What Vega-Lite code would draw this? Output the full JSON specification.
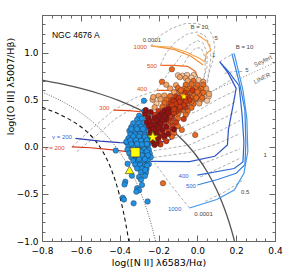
{
"$schema":"https://vega.github.io/schema/vega-lite/v6.json",
"width":233,"height":226,
"autosize":{"type":"none"},
"padding":{"left":42,"top":15,"right":8,"bottom":28},
"config":{"view":{"stroke":"#666","strokeWidth":1},"font":"Liberation Sans","axis":{"grid":false,"domain":false}},
"datasets":{
"kew":[{"i":0,"x":-0.8,"y":0.7097},{"i":1,"x":-0.7,"y":0.6686},{"i":2,"x":-0.6,"y":0.6199},{"i":3,"x":-0.5,"y":0.5611},{"i":4,"x":-0.4,"y":0.4889},{"i":5,"x":-0.3,"y":0.3978},{"i":6,"x":-0.25,"y":0.3428},{"i":7,"x":-0.2,"y":0.2796},{"i":8,"x":-0.15,"y":0.2061},{"i":9,"x":-0.1,"y":0.1198},{"i":10,"x":-0.05,"y":0.0169},{"i":11,"x":0,"y":-0.1079},{"i":12,"x":0.05,"y":-0.2624},{"i":13,"x":0.1,"y":-0.4586},{"i":14,"x":0.125,"y":-0.5781},{"i":15,"x":0.15,"y":-0.7163},{"i":16,"x":0.175,"y":-0.8778},{"i":17,"x":0.1915,"y":-1.0}],
"kau":[{"i":0,"x":-0.8,"y":0.5824},{"i":1,"x":-0.7,"y":0.4867},{"i":2,"x":-0.6,"y":0.3615},{"i":3,"x":-0.5,"y":0.1909},{"i":4,"x":-0.45,"y":0.08},{"i":5,"x":-0.4,"y":-0.0556},{"i":6,"x":-0.35,"y":-0.225},{"i":7,"x":-0.3,"y":-0.4429},{"i":8,"x":-0.275,"y":-0.5769},{"i":9,"x":-0.25,"y":-0.7333},{"i":10,"x":-0.235,"y":-0.8404},{"i":11,"x":-0.215,"y":-1.0019}],
"sta":[{"i":0,"x":-0.8,"y":0.4215},{"i":1,"x":-0.75,"y":0.3808},{"i":2,"x":-0.7,"y":0.335},{"i":3,"x":-0.65,"y":0.2809},{"i":4,"x":-0.6,"y":0.2134},{"i":5,"x":-0.55,"y":0.123},{"i":6,"x":-0.5,"y":-0.0067},{"i":7,"x":-0.45,"y":-0.2045},{"i":8,"x":-0.42,"y":-0.3755},{"i":9,"x":-0.4,"y":-0.521},{"i":10,"x":-0.38,"y":-0.6983},{"i":11,"x":-0.36,"y":-0.9157},{"i":12,"x":-0.353,"y":-1.0031}],
"sey":[{"i":0,"x":-0.03,"y":0.49},{"i":1,"x":0.4,"y":0.895}],
"dgrid":[
{"g":"Oa","i":0,"x":-0.24,"y":1.07},{"g":"Oa","i":1,"x":-0.2,"y":1.17},{"g":"Oa","i":2,"x":-0.13,"y":1.26},{"g":"Oa","i":3,"x":-0.06,"y":1.31},{"g":"Oa","i":4,"x":0.0,"y":1.31},{"g":"Oa","i":5,"x":0.05,"y":1.27},{"g":"Oa","i":6,"x":0.08,"y":1.18},{"g":"Oa","i":7,"x":0.09,"y":1.06},{"g":"Oa","i":8,"x":0.08,"y":0.92},{"g":"Oa","i":9,"x":0.06,"y":0.78},{"g":"Oa","i":10,"x":0.05,"y":0.65},
{"g":"Ob","i":0,"x":-0.19,"y":0.87},{"g":"Ob","i":1,"x":-0.16,"y":1.0},{"g":"Ob","i":2,"x":-0.11,"y":1.12},{"g":"Ob","i":3,"x":-0.05,"y":1.2},{"g":"Ob","i":4,"x":0.0,"y":1.22},{"g":"Ob","i":5,"x":0.04,"y":1.18},{"g":"Ob","i":6,"x":0.065,"y":1.08},{"g":"Ob","i":7,"x":0.07,"y":0.95},{"g":"Ob","i":8,"x":0.06,"y":0.8},{"g":"Ob","i":9,"x":0.045,"y":0.66},
{"g":"Oc","i":0,"x":-0.21,"y":0.6},{"g":"Oc","i":1,"x":-0.15,"y":0.78},{"g":"Oc","i":2,"x":-0.09,"y":0.95},{"g":"Oc","i":3,"x":-0.04,"y":1.08},{"g":"Oc","i":4,"x":0.0,"y":1.13},{"g":"Oc","i":5,"x":0.03,"y":1.1},{"g":"Oc","i":6,"x":0.05,"y":1.0},{"g":"Oc","i":7,"x":0.05,"y":0.85},{"g":"Oc","i":8,"x":0.03,"y":0.7},
{"g":"Od","i":0,"x":-0.08,"y":0.85},{"g":"Od","i":1,"x":-0.04,"y":0.98},{"g":"Od","i":2,"x":-0.01,"y":1.05},{"g":"Od","i":3,"x":0.02,"y":1.05},{"g":"Od","i":4,"x":0.04,"y":0.95},{"g":"Od","i":5,"x":0.04,"y":0.8},{"g":"Od","i":6,"x":0.02,"y":0.65},
{"g":"Oe","i":0,"x":-0.646,"y":0.0},{"g":"Oe","i":1,"x":-0.55,"y":0.18},{"g":"Oe","i":2,"x":-0.431,"y":0.39},{"g":"Oe","i":3,"x":-0.32,"y":0.52},{"g":"Oe","i":4,"x":-0.21,"y":0.6},
{"g":"Of","i":0,"x":-0.62,"y":-0.05},{"g":"Of","i":1,"x":-0.52,"y":0.12},{"g":"Of","i":2,"x":-0.42,"y":0.3},{"g":"Of","i":3,"x":-0.3,"y":0.45},{"g":"Of","i":4,"x":-0.18,"y":0.56},
{"g":"F1","i":0,"x":-0.25,"y":-0.12},{"g":"F1","i":1,"x":-0.04,"y":-0.06},{"g":"F1","i":2,"x":0.1,"y":0.03},{"g":"F1","i":3,"x":0.22,"y":0.14},
{"g":"F2","i":0,"x":-0.25,"y":-0.05},{"g":"F2","i":1,"x":-0.04,"y":0.02},{"g":"F2","i":2,"x":0.1,"y":0.15},{"g":"F2","i":3,"x":0.22,"y":0.28},
{"g":"F3","i":0,"x":-0.24,"y":0.02},{"g":"F3","i":1,"x":-0.04,"y":0.14},{"g":"F3","i":2,"x":0.1,"y":0.27},{"g":"F3","i":3,"x":0.21,"y":0.38},
{"g":"F4","i":0,"x":-0.2,"y":0.12},{"g":"F4","i":1,"x":-0.03,"y":0.25},{"g":"F4","i":2,"x":0.1,"y":0.38},{"g":"F4","i":3,"x":0.2,"y":0.48},
{"g":"F5","i":0,"x":-0.1,"y":0.3},{"g":"F5","i":1,"x":0.0,"y":0.38},{"g":"F5","i":2,"x":0.1,"y":0.5},{"g":"F5","i":3,"x":0.2,"y":0.6},
{"g":"F6","i":0,"x":0.0,"y":0.5},{"g":"F6","i":1,"x":0.1,"y":0.62},{"g":"F6","i":2,"x":0.18,"y":0.72},{"g":"F6","i":3,"x":0.22,"y":0.8},
{"g":"F7","i":0,"x":0.015,"y":-0.32},{"g":"F7","i":1,"x":0.12,"y":-0.22},{"g":"F7","i":2,"x":0.22,"y":-0.12},
{"g":"F8","i":0,"x":0.0,"y":-0.2},{"g":"F8","i":1,"x":0.1,"y":-0.12},{"g":"F8","i":2,"x":0.22,"y":-0.02},
{"g":"F9","i":0,"x":-0.04,"y":-0.65},{"g":"F9","i":1,"x":-0.08,"y":-0.55},{"g":"F9","i":2,"x":-0.13,"y":-0.42},{"g":"F9","i":3,"x":-0.18,"y":-0.28},{"g":"F9","i":4,"x":-0.22,"y":-0.17},
{"g":"F10","i":0,"x":0.04,"y":-0.58},{"g":"F10","i":1,"x":0.14,"y":-0.48},{"g":"F10","i":2,"x":0.23,"y":-0.36},
{"g":"Ft1","i":0,"x":0.115,"y":0.904},{"g":"Ft1","i":1,"x":0.15,"y":0.95},{"g":"Ft1","i":2,"x":0.19,"y":0.99},
{"g":"Ft2","i":0,"x":0.14,"y":0.78},{"g":"Ft2","i":1,"x":0.19,"y":0.8},{"g":"Ft2","i":2,"x":0.24,"y":0.8}
],
"ogrid":[
{"v":"200","i":0,"x":-0.646,"y":0.0},{"v":"200","i":1,"x":-0.55,"y":-0.01},{"v":"200","i":2,"x":-0.45,"y":-0.03},{"v":"200","i":3,"x":-0.36,"y":-0.05},{"v":"200","i":4,"x":-0.3,"y":-0.03},{"v":"200","i":5,"x":-0.25,"y":0.02},{"v":"200","i":6,"x":-0.2,"y":0.08},{"v":"200","i":7,"x":-0.15,"y":0.14},{"v":"200","i":8,"x":-0.12,"y":0.2},
{"v":"300","i":0,"x":-0.431,"y":0.39},{"v":"300","i":1,"x":-0.35,"y":0.385},{"v":"300","i":2,"x":-0.28,"y":0.37},{"v":"300","i":3,"x":-0.2,"y":0.34},{"v":"300","i":4,"x":-0.14,"y":0.32},
{"v":"400","i":0,"x":-0.208,"y":0.6},{"v":"400","i":1,"x":-0.12,"y":0.6},{"v":"400","i":2,"x":-0.05,"y":0.595},{"v":"400","i":3,"x":0.01,"y":0.56},
{"v":"500","i":0,"x":-0.19,"y":0.865},{"v":"500","i":1,"x":-0.12,"y":0.865},{"v":"500","i":2,"x":-0.05,"y":0.855},{"v":"500","i":3,"x":-0.01,"y":0.8},{"v":"500","i":4,"x":0.005,"y":0.72},{"v":"500","i":5,"x":0.01,"y":0.66},
{"v":"700","i":0,"x":-0.235,"y":1.072},{"v":"700","i":1,"x":-0.12,"y":1.035},{"v":"700","i":2,"x":-0.03,"y":0.96},{"v":"700","i":3,"x":0.03,"y":0.87},
{"v":"1000","i":0,"x":-0.24,"y":1.07},{"v":"1000","i":1,"x":-0.14,"y":1.06},{"v":"1000","i":2,"x":-0.06,"y":1.01},{"v":"1000","i":3,"x":0.01,"y":0.94},{"v":"1000","i":4,"x":0.04,"y":0.9},{"v":"1000","i":5,"x":0.045,"y":0.985},{"v":"1000","i":6,"x":0.07,"y":1.03},{"v":"1000","i":7,"x":0.05,"y":1.12},{"v":"1000","i":8,"x":0.0,"y":1.19}
],
"bgrid":[
{"v":"200","i":0,"x":-0.628,"y":0.09},{"v":"200","i":1,"x":-0.5,"y":0.06},{"v":"200","i":2,"x":-0.4,"y":0.045},{"v":"200","i":3,"x":-0.3,"y":0.04},{"v":"200","i":4,"x":-0.2,"y":0.045},{"v":"200","i":5,"x":-0.14,"y":0.075},{"v":"200","i":6,"x":-0.11,"y":0.15},
{"v":"300","i":0,"x":-0.24,"y":-0.155},{"v":"300","i":1,"x":-0.04,"y":-0.157},{"v":"300","i":2,"x":0.09,"y":-0.1},{"v":"300","i":3,"x":0.155,"y":0.02},{"v":"300","i":4,"x":0.16,"y":0.18},{"v":"300","i":5,"x":0.185,"y":0.45},{"v":"300","i":6,"x":0.2,"y":0.62},{"v":"300","i":7,"x":0.16,"y":0.78},{"v":"300","i":8,"x":0.115,"y":0.904},
{"v":"400","i":0,"x":0.0,"y":-0.3},{"v":"400","i":1,"x":0.19,"y":-0.23},{"v":"400","i":2,"x":0.235,"y":-0.16},{"v":"400","i":3,"x":0.24,"y":0.05},{"v":"400","i":4,"x":0.23,"y":0.35},{"v":"400","i":5,"x":0.215,"y":0.65},{"v":"400","i":6,"x":0.16,"y":0.8},{"v":"400","i":7,"x":0.12,"y":0.89},
{"v":"500","i":0,"x":0.0,"y":-0.405},{"v":"500","i":1,"x":0.1,"y":-0.35},{"v":"500","i":2,"x":0.2,"y":-0.28},{"v":"500","i":3,"x":0.245,"y":-0.19},{"v":"500","i":4,"x":0.25,"y":0.04},{"v":"500","i":5,"x":0.245,"y":0.39},{"v":"500","i":6,"x":0.22,"y":0.65},{"v":"500","i":7,"x":0.178,"y":0.99},
{"v":"1000","i":0,"x":-0.04,"y":-0.65},{"v":"1000","i":1,"x":0.1,"y":-0.56},{"v":"1000","i":2,"x":0.19,"y":-0.46},{"v":"1000","i":3,"x":0.24,"y":-0.28},{"v":"1000","i":4,"x":0.26,"y":-0.05},{"v":"1000","i":5,"x":0.255,"y":0.3},{"v":"1000","i":6,"x":0.235,"y":0.6},{"v":"1000","i":7,"x":0.19,"y":0.99}
],
"blue":[
{"x":-0.275,"y":0.49},{"x":-0.272,"y":0.38},{"x":-0.3,"y":0.33},{"x":-0.31,"y":0.29},{"x":-0.285,"y":0.3},
{"x":-0.33,"y":0.25},{"x":-0.3,"y":0.25},{"x":-0.275,"y":0.255},
{"x":-0.34,"y":0.21},{"x":-0.315,"y":0.21},{"x":-0.29,"y":0.215},{"x":-0.265,"y":0.205},
{"x":-0.35,"y":0.17},{"x":-0.325,"y":0.17},{"x":-0.3,"y":0.175},{"x":-0.275,"y":0.165},{"x":-0.25,"y":0.17},
{"x":-0.345,"y":0.13},{"x":-0.32,"y":0.13},{"x":-0.295,"y":0.135},{"x":-0.27,"y":0.125},{"x":-0.245,"y":0.13},
{"x":-0.355,"y":0.09},{"x":-0.33,"y":0.09},{"x":-0.305,"y":0.095},{"x":-0.28,"y":0.085},{"x":-0.255,"y":0.09},{"x":-0.232,"y":0.085},
{"x":-0.365,"y":0.05},{"x":-0.34,"y":0.05},{"x":-0.315,"y":0.055},{"x":-0.29,"y":0.045},{"x":-0.265,"y":0.05},{"x":-0.24,"y":0.045},
{"x":-0.355,"y":0.01},{"x":-0.33,"y":0.01},{"x":-0.305,"y":0.015},{"x":-0.28,"y":0.005},{"x":-0.255,"y":0.01},
{"x":-0.36,"y":-0.03},{"x":-0.3,"y":-0.035},{"x":-0.275,"y":-0.025},{"x":-0.25,"y":-0.03},
{"x":-0.35,"y":-0.07},{"x":-0.295,"y":-0.075},{"x":-0.27,"y":-0.065},{"x":-0.245,"y":-0.07},
{"x":-0.34,"y":-0.11},{"x":-0.315,"y":-0.11},{"x":-0.29,"y":-0.115},{"x":-0.265,"y":-0.105},{"x":-0.24,"y":-0.11},
{"x":-0.33,"y":-0.15},{"x":-0.305,"y":-0.15},{"x":-0.28,"y":-0.155},{"x":-0.255,"y":-0.145},
{"x":-0.32,"y":-0.19},{"x":-0.295,"y":-0.19},{"x":-0.27,"y":-0.195},{"x":-0.25,"y":-0.185},
{"x":-0.31,"y":-0.23},{"x":-0.285,"y":-0.23},{"x":-0.262,"y":-0.235},
{"x":-0.29,"y":-0.27},{"x":-0.265,"y":-0.275},
{"x":-0.359,"y":-0.18},{"x":-0.337,"y":-0.306},{"x":-0.3,"y":-0.32},{"x":-0.27,"y":-0.31},
{"x":-0.371,"y":-0.37},{"x":-0.29,"y":-0.35},{"x":-0.375,"y":-0.4},{"x":-0.285,"y":-0.405},
{"x":-0.31,"y":-0.44},{"x":-0.3,"y":-0.46},{"x":-0.314,"y":-0.476},
{"x":-0.384,"y":-0.54},{"x":-0.378,"y":-0.56},{"x":-0.256,"y":-0.58},{"x":-0.328,"y":-0.6},
{"x":-0.42,"y":-0.04},{"x":-0.365,"y":0.055},{"x":-0.26,"y":-0.2},{"x":-0.268,"y":-0.245},
{"x":-0.34,"y":0.19},{"x":-0.31,"y":0.19},{"x":-0.28,"y":0.19},{"x":-0.33,"y":0.11},{"x":-0.3,"y":0.11},{"x":-0.27,"y":0.105},
{"x":-0.345,"y":0.07},{"x":-0.315,"y":0.07},{"x":-0.29,"y":0.065},{"x":-0.26,"y":0.07},{"x":-0.34,"y":0.03},{"x":-0.31,"y":0.03},{"x":-0.285,"y":0.025},{"x":-0.26,"y":0.03},
{"x":-0.325,"y":-0.05},{"x":-0.29,"y":-0.05},{"x":-0.26,"y":-0.05},{"x":-0.32,"y":-0.09},{"x":-0.285,"y":-0.09},{"x":-0.255,"y":-0.09},{"x":-0.3,"y":-0.13},{"x":-0.27,"y":-0.13}
],
"red":[
{"t":1,"x":-0.1,"y":0.76},{"t":1,"x":-0.075,"y":0.755},{"t":1,"x":-0.053,"y":0.763},{"t":1,"x":-0.019,"y":0.763},{"t":1,"x":-0.03,"y":0.735},{"t":1,"x":0.006,"y":0.71},{"t":1,"x":0.05,"y":0.58},{"t":1,"x":0.04,"y":0.535},{"t":1,"x":0.058,"y":0.533},{"t":1,"x":0.05,"y":0.49},{"t":1,"x":-0.21,"y":0.46},
{"t":2,"x":-0.09,"y":0.74},{"t":2,"x":-0.06,"y":0.73},{"t":2,"x":-0.05,"y":0.7},{"t":2,"x":0.03,"y":0.69},{"t":2,"x":-0.16,"y":0.66},{"t":2,"x":-0.11,"y":0.655},{"t":2,"x":-0.14,"y":0.62},{"t":2,"x":0.045,"y":0.62},{"t":2,"x":-0.12,"y":0.58},{"t":2,"x":-0.2,"y":0.54},{"t":2,"x":-0.17,"y":0.545},{"t":2,"x":-0.23,"y":0.5},{"t":2,"x":-0.19,"y":0.505},{"t":2,"x":0.02,"y":0.5},{"t":2,"x":0.01,"y":0.46},{"t":2,"x":-0.22,"y":0.42},{"t":2,"x":0.06,"y":0.56},{"t":2,"x":-0.227,"y":0.53},
{"t":3,"x":-0.131,"y":0.824},{"t":3,"x":-0.182,"y":0.692},{"t":3,"x":-0.02,"y":0.7},{"t":3,"x":-0.06,"y":0.66},{"t":3,"x":-0.03,"y":0.665},{"t":3,"x":0.0,"y":0.655},{"t":3,"x":0.03,"y":0.66},{"t":3,"x":-0.1,"y":0.625},{"t":3,"x":-0.07,"y":0.615},{"t":3,"x":-0.04,"y":0.62},{"t":3,"x":0.02,"y":0.615},{"t":3,"x":-0.09,"y":0.585},{"t":3,"x":-0.03,"y":0.58},{"t":3,"x":0.03,"y":0.575},{"t":3,"x":-0.14,"y":0.54},{"t":3,"x":-0.08,"y":0.545},{"t":3,"x":-0.02,"y":0.54},{"t":3,"x":0.01,"y":0.545},{"t":3,"x":-0.16,"y":0.5},{"t":3,"x":-0.07,"y":0.5},{"t":3,"x":-0.01,"y":0.505},{"t":3,"x":-0.17,"y":0.465},{"t":3,"x":-0.05,"y":0.46},{"t":3,"x":-0.02,"y":0.455},{"t":3,"x":-0.18,"y":0.425},{"t":3,"x":-0.03,"y":0.415},{"t":3,"x":-0.08,"y":0.385},{"t":3,"x":-0.05,"y":0.38},{"t":3,"x":-0.1,"y":0.345},{"t":3,"x":-0.06,"y":0.34},{"t":3,"x":-0.1,"y":0.3},{"t":3,"x":-0.14,"y":0.265},{"t":3,"x":-0.1,"y":0.22},{"t":3,"x":-0.08,"y":0.18},{"t":3,"x":-0.12,"y":0.145},{"t":3,"x":-0.131,"y":0.108},{"t":3,"x":-0.177,"y":-0.387},{"t":3,"x":-0.011,"y":0.126},{"t":3,"x":-0.055,"y":0.6},{"t":3,"x":0.005,"y":0.6},{"t":3,"x":-0.035,"y":0.52},{"t":3,"x":0.025,"y":0.52},{"t":3,"x":-0.03,"y":0.48},{"t":3,"x":-0.01,"y":0.62},{"t":3,"x":0.0,"y":0.585},{"t":3,"x":-0.085,"y":0.6},{"t":3,"x":-0.005,"y":0.52},
{"t":4,"x":-0.06,"y":0.575},{"t":4,"x":-0.11,"y":0.535},{"t":4,"x":-0.05,"y":0.535},{"t":4,"x":-0.13,"y":0.495},{"t":4,"x":-0.1,"y":0.505},{"t":4,"x":-0.04,"y":0.495},{"t":4,"x":-0.14,"y":0.46},{"t":4,"x":-0.08,"y":0.465},{"t":4,"x":-0.15,"y":0.42},{"t":4,"x":-0.12,"y":0.415},{"t":4,"x":-0.06,"y":0.42},{"t":4,"x":-0.2,"y":0.38},{"t":4,"x":-0.14,"y":0.38},{"t":4,"x":-0.11,"y":0.375},{"t":4,"x":-0.22,"y":0.34},{"t":4,"x":-0.13,"y":0.335},{"t":4,"x":-0.19,"y":0.3},{"t":4,"x":-0.13,"y":0.305},{"t":4,"x":-0.07,"y":0.295},{"t":4,"x":-0.23,"y":0.265},{"t":4,"x":-0.17,"y":0.255},{"t":4,"x":-0.11,"y":0.26},{"t":4,"x":-0.19,"y":0.22},{"t":4,"x":-0.13,"y":0.225},{"t":4,"x":-0.21,"y":0.185},{"t":4,"x":-0.15,"y":0.175},{"t":4,"x":-0.18,"y":0.14},{"t":4,"x":-0.17,"y":0.1},{"t":4,"x":-0.2,"y":0.065},{"t":4,"x":-0.16,"y":0.06},{"t":4,"x":-0.19,"y":0.025},{"t":4,"x":-0.025,"y":0.6},{"t":4,"x":-0.095,"y":0.52},{"t":4,"x":-0.065,"y":0.52},{"t":4,"x":-0.12,"y":0.48},{"t":4,"x":-0.06,"y":0.48},{"t":4,"x":-0.1,"y":0.44},{"t":4,"x":-0.07,"y":0.44},{"t":4,"x":-0.09,"y":0.4},{"t":4,"x":-0.18,"y":0.36},{"t":4,"x":-0.12,"y":0.36},{"t":4,"x":-0.14,"y":0.32},{"t":4,"x":-0.15,"y":0.28},{"t":4,"x":-0.22,"y":0.24},{"t":4,"x":-0.19,"y":0.16},{"t":4,"x":-0.11,"y":0.455},{"t":4,"x":-0.09,"y":0.425},{"t":4,"x":-0.09,"y":0.48},{"t":4,"x":-0.13,"y":0.44},{"t":4,"x":-0.12,"y":0.4},
{"t":5,"x":-0.17,"y":0.385},{"t":5,"x":-0.19,"y":0.345},{"t":5,"x":-0.16,"y":0.34},{"t":5,"x":-0.25,"y":0.3},{"t":5,"x":-0.22,"y":0.305},{"t":5,"x":-0.16,"y":0.295},{"t":5,"x":-0.26,"y":0.26},{"t":5,"x":-0.2,"y":0.26},{"t":5,"x":-0.25,"y":0.22},{"t":5,"x":-0.22,"y":0.225},{"t":5,"x":-0.16,"y":0.215},{"t":5,"x":-0.24,"y":0.18},{"t":5,"x":-0.18,"y":0.18},{"t":5,"x":-0.12,"y":0.185},{"t":5,"x":-0.24,"y":0.14},{"t":5,"x":-0.21,"y":0.145},{"t":5,"x":-0.15,"y":0.135},{"t":5,"x":-0.23,"y":0.1},{"t":5,"x":-0.2,"y":0.105},{"t":5,"x":-0.23,"y":0.06},{"t":5,"x":-0.22,"y":0.02},{"t":5,"x":-0.15,"y":0.4},{"t":5,"x":-0.15,"y":0.36},{"t":5,"x":-0.2,"y":0.32},{"t":5,"x":-0.17,"y":0.32},{"t":5,"x":-0.21,"y":0.28},{"t":5,"x":-0.18,"y":0.28},{"t":5,"x":-0.19,"y":0.24},{"t":5,"x":-0.2,"y":0.2},{"t":5,"x":-0.23,"y":0.16},{"t":5,"x":-0.22,"y":0.12},{"t":5,"x":-0.17,"y":0.12},{"t":5,"x":-0.21,"y":0.08},{"t":5,"x":-0.21,"y":0.04},{"t":5,"x":-0.27,"y":0.35},{"t":5,"x":-0.255,"y":0.31},{"t":5,"x":-0.245,"y":0.27},{"t":5,"x":-0.235,"y":0.23},{"t":5,"x":-0.225,"y":0.19},{"t":5,"x":-0.265,"y":0.39},{"t":5,"x":-0.24,"y":0.37}
],
"sq":[{"x":-0.319,"y":-0.058}],
"stb":[{"x":-0.23,"y":0.108}],
"sts":[{"x":-0.07,"y":0.533}],
"tri":[{"x":-0.349,"y":-0.245}],
"lo":[{"t":"1000","x":-0.294,"y":1.064},{"t":"500","x":-0.234,"y":0.862},{"t":"400","x":-0.285,"y":0.611},{"t":"300","x":-0.479,"y":0.41},{"t":"v = 200","x":-0.735,"y":-0.015}],
"lb":[{"t":"v = 200","x":-0.697,"y":0.1},{"t":"400","x":-0.071,"y":-0.306},{"t":"500","x":-0.033,"y":-0.412},{"t":"1000","x":-0.117,"y":-0.66}],
"lg":[{"t":"0.0001","x":-0.234,"y":1.135},{"t":"B = 10","x":0.01,"y":1.276},{"t":"5","x":0.097,"y":1.159},{"t":"1","x":0.084,"y":0.972},{"t":"B = 10","x":0.243,"y":1.064},{"t":"5","x":0.256,"y":0.816},{"t":"1","x":0.35,"y":-0.086},{"t":"0.5","x":0.247,"y":-0.482},{"t":"0.0001","x":0.032,"y":-0.713}],
"lr":[{"t":"Seyfert","x":0.338,"y":0.912},{"t":"LINER","x":0.333,"y":0.728}],
"ttl":[{"t":"NGC 4676 A","x":-0.749,"y":1.188}]
},
"encoding":{
"x":{"field":"x","type":"quantitative","scale":{"domain":[-0.8,0.4],"nice":false,"zero":false},"axis":null},
"y":{"field":"y","type":"quantitative","scale":{"domain":[-1,1.4],"nice":false,"zero":false},"axis":null}
},
"layer":[
{"data":{"name":"dgrid"},"mark":{"type":"line","color":"#9a9a9a","strokeWidth":0.8,"strokeDash":[3,2],"clip":true},
 "encoding":{"detail":{"field":"g"},"order":{"field":"i","type":"quantitative"},
 "x":{"field":"x","type":"quantitative","scale":{"domain":[-0.8,0.4],"nice":false,"zero":false},"axis":{"orient":"top","values":[-0.8,-0.75,-0.7,-0.65,-0.6,-0.55,-0.5,-0.45,-0.4,-0.35,-0.3,-0.25,-0.2,-0.15,-0.1,-0.05,0,0.05,0.1,0.15,0.2,0.25,0.3,0.35,0.4],"labels":false,"ticks":true,"tickSize":-3,"tickColor":"#666","domain":false,"grid":false,"title":null}},
 "y":{"field":"y","type":"quantitative","scale":{"domain":[-1,1.4],"nice":false,"zero":false},"axis":{"orient":"right","values":[-1,-0.9,-0.8,-0.7,-0.6,-0.5,-0.4,-0.3,-0.2,-0.1,0,0.1,0.2,0.3,0.4,0.5,0.6,0.7,0.8,0.9,1,1.1,1.2,1.3,1.4],"labels":false,"ticks":true,"tickSize":-3,"tickColor":"#666","domain":false,"grid":false,"title":null}}}},
{"data":{"name":"kew"},"mark":{"type":"line","color":"#555","strokeWidth":1.3,"interpolate":"monotone","clip":true},
 "encoding":{"order":{"field":"i","type":"quantitative"},
 "x":{"field":"x","type":"quantitative","scale":{"domain":[-0.8,0.4],"nice":false,"zero":false},"axis":{"orient":"bottom","values":[-0.8,-0.6,-0.4,-0.2,0,0.2,0.4],"format":".1f","ticks":false,"domain":false,"grid":false,"labelFont":"DejaVu Sans","labelFontSize":9,"labelColor":"#000","labelPadding":5,"labelFlush":false,"labelOverlap":false,"labelBound":false,"title":"log([N II] λ6583/Hα)","titleFont":"DejaVu Sans","titleFontSize":9.5,"titleFontWeight":"normal","titleColor":"#000","titleY":24,"titleBaseline":"alphabetic"}},
 "y":{"field":"y","type":"quantitative","scale":{"domain":[-1,1.4],"nice":false,"zero":false},"axis":{"orient":"left","values":[-1,-0.5,0,0.5,1],"format":".1f","ticks":false,"domain":false,"grid":false,"labelFont":"DejaVu Sans","labelFontSize":9,"labelColor":"#000","labelPadding":4,"labelFlush":false,"labelOverlap":false,"title":"log([O III] λ5007/Hβ)","titleFont":"DejaVu Sans","titleFontSize":9.5,"titleFontWeight":"normal","titleColor":"#000","titleX":-32,"titleY":71,"titleAngle":270,"titleBaseline":"middle"}}}},
{"data":{"name":"kau"},"mark":{"type":"line","color":"#555","strokeWidth":0.9,"strokeDash":[1,1.5],"interpolate":"monotone","clip":true},
 "encoding":{"order":{"field":"i","type":"quantitative"},
 "x":{"field":"x","type":"quantitative","scale":{"domain":[-0.8,0.4],"nice":false,"zero":false},"axis":{"orient":"bottom","values":[-0.8,-0.6,-0.4,-0.2,0,0.2,0.4],"labels":false,"ticks":true,"tickSize":-6,"tickColor":"#666","domain":false,"grid":false,"title":null}},
 "y":{"field":"y","type":"quantitative","scale":{"domain":[-1,1.4],"nice":false,"zero":false},"axis":{"orient":"left","values":[-1,-0.5,0,0.5,1],"labels":false,"ticks":true,"tickSize":-6,"tickColor":"#666","domain":false,"grid":false,"title":null}}}},
{"data":{"name":"sta"},"mark":{"type":"line","color":"#111","strokeWidth":1.1,"strokeDash":[4,3],"interpolate":"monotone","clip":true},
 "encoding":{"order":{"field":"i","type":"quantitative"},
 "x":{"field":"x","type":"quantitative","scale":{"domain":[-0.8,0.4],"nice":false,"zero":false},"axis":{"orient":"bottom","values":[-0.8,-0.75,-0.7,-0.65,-0.6,-0.55,-0.5,-0.45,-0.4,-0.35,-0.3,-0.25,-0.2,-0.15,-0.1,-0.05,0,0.05,0.1,0.15,0.2,0.25,0.3,0.35,0.4],"labels":false,"ticks":true,"tickSize":-3,"tickColor":"#666","domain":false,"grid":false,"title":null}},
 "y":{"field":"y","type":"quantitative","scale":{"domain":[-1,1.4],"nice":false,"zero":false},"axis":{"orient":"left","values":[-1,-0.9,-0.8,-0.7,-0.6,-0.5,-0.4,-0.3,-0.2,-0.1,0,0.1,0.2,0.3,0.4,0.5,0.6,0.7,0.8,0.9,1,1.1,1.2,1.3,1.4],"labels":false,"ticks":true,"tickSize":-3,"tickColor":"#666","domain":false,"grid":false,"title":null}}}},
{"data":{"name":"sey"},"mark":{"type":"line","color":"#777","strokeWidth":0.9,"strokeDash":[1,2],"clip":true},
 "encoding":{"order":{"field":"i","type":"quantitative"},
 "x":{"field":"x","type":"quantitative","scale":{"domain":[-0.8,0.4],"nice":false,"zero":false},"axis":{"orient":"top","values":[-0.8,-0.6,-0.4,-0.2,0,0.2,0.4],"labels":false,"ticks":true,"tickSize":-6,"tickColor":"#666","domain":false,"grid":false,"title":null}},
 "y":{"field":"y","type":"quantitative","scale":{"domain":[-1,1.4],"nice":false,"zero":false},"axis":{"orient":"right","values":[-1,-0.5,0,0.5,1],"labels":false,"ticks":true,"tickSize":-6,"tickColor":"#666","domain":false,"grid":false,"title":null}}}},
{"data":{"name":"ogrid"},"mark":{"type":"line","strokeWidth":1.2,"clip":true},
 "encoding":{"order":{"field":"i","type":"quantitative"},"color":{"field":"v","type":"nominal","legend":null,"scale":{"domain":["200","300","400","500","700","1000"],"range":["#D0381A","#DE4618","#E8561C","#F06A22","#F39038","#F5A448"]}}}},
{"data":{"name":"bgrid"},"mark":{"type":"line","strokeWidth":1.2,"clip":true},
 "encoding":{"order":{"field":"i","type":"quantitative"},"color":{"field":"v","type":"nominal","legend":null,"scale":{"domain":["200","300","400","500","1000"],"range":["#2A3FB0","#2B52C4","#2F69D6","#3582E0","#3F98EA"]}}}},
{"data":{"name":"blue"},"mark":{"type":"circle","size":30,"color":"#1F93E3","opacity":1,"stroke":"#223","strokeWidth":0.4}},
{"data":{"name":"red"},"mark":{"type":"circle","size":30,"opacity":1,"stroke":"#322","strokeWidth":0.4},
 "encoding":{"order":{"field":"t","type":"quantitative","sort":"ascending"},"color":{"field":"t","type":"ordinal","legend":null,"scale":{"domain":[1,2,3,4,5],"range":["#F6C79C","#F2A262","#E86A20","#CC3810","#921212"]}}}},
{"data":{"name":"sq"},"mark":{"type":"point","shape":"square","filled":true,"size":85,"color":"#FFFF00","opacity":1,"stroke":"#333","strokeWidth":0.6}},
{"data":{"name":"tri"},"mark":{"type":"point","shape":"triangle-up","filled":true,"size":75,"color":"#FFFF00","opacity":1,"stroke":"#333","strokeWidth":0.6}},
{"data":{"name":"stb"},"mark":{"type":"text","text":"★","fontSize":15,"color":"#FFFF00","align":"center","baseline":"middle","font":"DejaVu Sans","stroke":"#333","strokeWidth":0.4}},
{"data":{"name":"sts"},"mark":{"type":"text","text":"★","fontSize":8,"color":"#FFFF00","align":"center","baseline":"middle","font":"DejaVu Sans"}},
{"data":{"name":"lo"},"mark":{"type":"text","font":"Liberation Sans","fontSize":6,"color":"#E0481A","align":"center","baseline":"middle"},"encoding":{"text":{"field":"t"}}},
{"data":{"name":"lb"},"mark":{"type":"text","font":"Liberation Sans","fontSize":6,"color":"#2F66D4","align":"center","baseline":"middle"},"encoding":{"text":{"field":"t"}}},
{"data":{"name":"lg"},"mark":{"type":"text","font":"Liberation Sans","fontSize":6,"color":"#444","align":"center","baseline":"middle"},"encoding":{"text":{"field":"t"}}},
{"data":{"name":"lr"},"mark":{"type":"text","font":"Liberation Sans","fontSize":6,"color":"#555","align":"center","baseline":"middle","angle":-26},"encoding":{"text":{"field":"t"}}},
{"data":{"name":"ttl"},"mark":{"type":"text","font":"Liberation Sans","fontSize":8.5,"color":"#000","align":"left","baseline":"middle"},"encoding":{"text":{"field":"t"}}}
],
"resolve":{"axis":{"x":"independent","y":"independent"},"scale":{"color":"independent"}}
}
